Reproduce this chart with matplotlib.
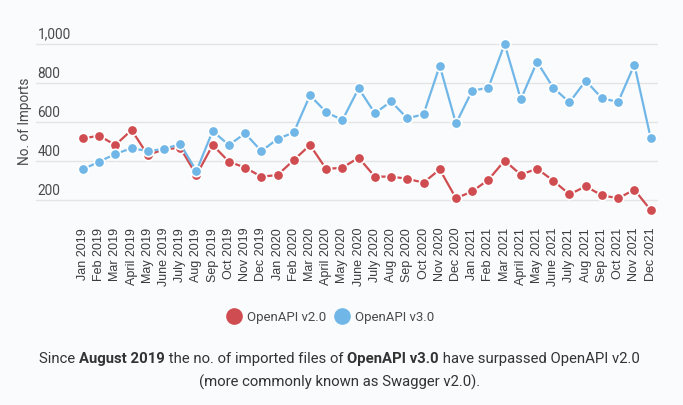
import matplotlib
matplotlib.use("Agg")
import matplotlib.pyplot as plt
import matplotlib.transforms as mtransforms

months = ["Jan", "Feb", "Mar", "April", "May", "June", "July", "Aug",
          "Sep", "Oct", "Nov", "Dec"]
years = [2019, 2020, 2021]
labels = [f"{m} {y}" for y in years for m in months]

v2 = [516, 530, 482, 559, 431, 460, 468, 328, 482, 397, 366, 320,
      328, 405, 482, 359, 366, 417, 320, 320, 309, 289, 357, 209,
      244, 304, 402, 330, 361, 299, 229, 270, 224, 209, 253, 149]
v3 = [357, 397, 436, 466, 451, 462, 487, 349, 554, 482, 542, 451,
      513, 547, 737, 651, 610, 773, 645, 706, 619, 640, 889, 593,
      761, 776, 1000, 717, 909, 776, 701, 812, 722, 703, 894, 520]
yticks = [200, 400, 600, 800, 1000]

RED = "#cf4c50"
BLUE = "#70b7e8"
BG = "#fafbfc"
TXT = "#4a4a4a"

plt.rcParams['font.family'] = ['Roboto', 'DejaVu Sans']

fig = plt.figure(figsize=(6.83, 4.05), dpi=100, facecolor=BG)
ax = fig.add_axes([0.053, 0.458, 0.910, 0.462], facecolor=BG)

x = list(range(len(labels)))
ax.plot(x, v2, color=RED, lw=1.6, marker="o", ms=7.5, mfc=RED, mec="white",
        mew=1.2, label="OpenAPI v2.0", zorder=3)
ax.plot(x, v3, color=BLUE, lw=1.6, marker="o", ms=7.5, mfc=BLUE, mec="white",
        mew=1.2, label="OpenAPI v3.0", zorder=4)

ax.set_xlim(-2.88, 35.44)
ax.set_ylim(100, 1060)
ax.set_yticks(yticks)
ax.yaxis.grid(True, color="#e4e4e4", lw=1)
ax.set_axisbelow(True)
ax.tick_params(axis="y", length=0, labelleft=False)
for s in ax.spines.values():
    s.set_visible(False)

trans = mtransforms.blended_transform_factory(ax.transAxes, ax.transData)
for v in yticks:
    ax.text(0.002, v + 12, f"{v:,}", transform=trans, ha="left", va="bottom",
            fontsize=9.8, color=TXT)

ax.set_xticks(x)
ax.set_xticklabels(labels, rotation=90, fontsize=9, color="#3a3a3a",
                   family="Liberation Sans")
ax.tick_params(axis="x", length=0, pad=6)

fig.text(0.037, 0.70, "No. of Imports", rotation=90, ha="center", va="center",
         fontsize=9.8, color=TXT)

handles, lbls = ax.get_legend_handles_labels()
leg = fig.legend(handles, lbls, loc="center", bbox_to_anchor=(0.489, 0.217),
                 ncol=2, frameon=False, fontsize=9.5, handlelength=0,
                 handletextpad=1.0, columnspacing=1.2, labelcolor=TXT)
for h in leg.legend_handles:
    h.set_linestyle("none")
    h.set_markersize(12)
    h.set_markeredgewidth(0)

# caption with bold pieces
pieces1 = [("Since ", "normal"), ("August 2019", "bold"),
           (" the no. of imported files of ", "normal"), ("OpenAPI v3.0", "bold"),
           (" have surpassed OpenAPI v2.0", "normal")]
line2 = "(more commonly known as Swagger v2.0)."

fig.canvas.draw()
renderer = fig.canvas.get_renderer()
texts = []
for s, w in pieces1:
    t = fig.text(0, 0.104, s, fontsize=10.75, fontweight=w, color="#333333",
                 ha="left", va="baseline")
    texts.append(t)
widths = [t.get_window_extent(renderer).width for t in texts]
total = sum(widths)
xpos = 0.5 * fig.bbox.width - total / 2 - 2
for t, w in zip(texts, widths):
    t.set_x(xpos / fig.bbox.width)
    xpos += w
fig.text(0.497, 0.045, line2, fontsize=10.75, color="#333333", ha="center",
         va="baseline")

fig.savefig("out.png", dpi=100, facecolor=BG)
